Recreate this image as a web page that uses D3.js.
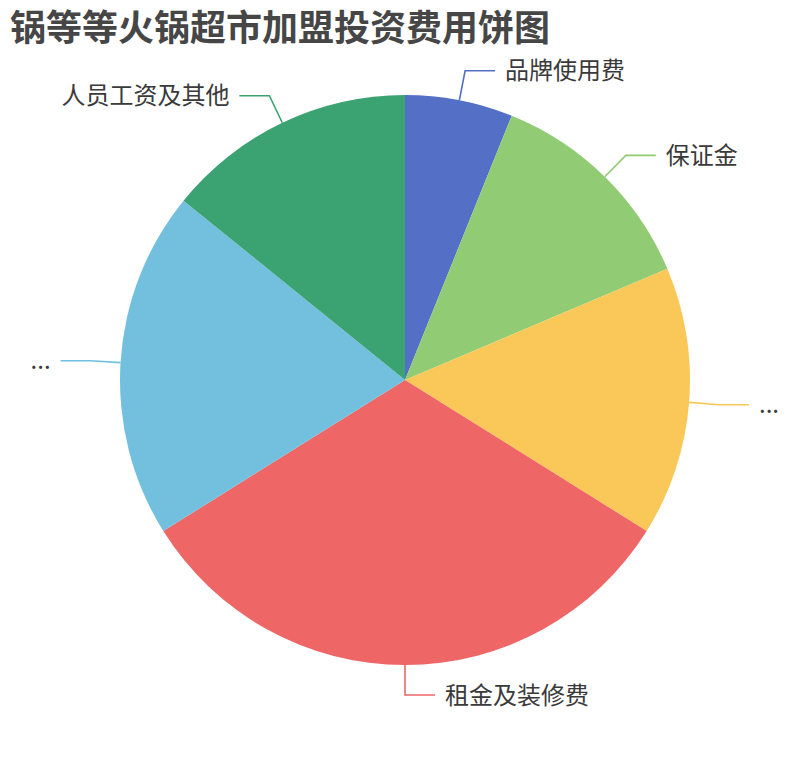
<!DOCTYPE html>
<html>
<head>
<meta charset="utf-8">
<script src="https://cdn.jsdelivr.net/npm/d3@7"></script>
<style>
  body { margin: 0; background: #fff; }
  text { font-family: "Noto Sans CJK SC", "Noto Sans", sans-serif; }
</style>
</head>
<body>
<script>
// 饼图数据
var categories = ['品牌使用费', '保证金', '...', '租金及装修费', '...', '人员工资及其他'];
var values = [2.2, 4.5, 5.5, 11.6, 7.1, 5.1];
var colors = ['#5470c6', '#91cc75', '#fac858', '#ee6666', '#73c0de', '#3ba272'];

var W = 810, H = 760;
var cx = 405, cy = 380, R = 285;
var len1 = 30, len2 = 30;

var svg = d3.select('body').append('svg')
    .attr('width', W)
    .attr('height', H);

svg.append('text')
    .attr('x', 10)
    .attr('y', 25)
    .attr('dominant-baseline', 'central')
    .style('font-size', '36px')
    .style('font-weight', 'bold')
    .style('fill', '#464646')
    .text('锅等等火锅超市加盟投资费用饼图');

var rows = categories.map(function(c, i) { return {name: c, value: values[i], color: colors[i]}; });

var pie = d3.pie().sort(null).value(function(d) { return d.value; });
var arcs = pie(rows);

var arc = d3.arc().innerRadius(0).outerRadius(R);
var edge = d3.arc().innerRadius(R).outerRadius(R);
var outer = d3.arc().innerRadius(R + len1).outerRadius(R + len1);

var group = svg.append('g').attr('transform', 'translate(' + cx + ',' + cy + ')');

group.selectAll('path.slice')
    .data(arcs)
    .enter().append('path')
    .attr('class', 'slice')
    .attr('d', arc)
    .style('fill', function(d) { return d.data.color; });

// 引导线和标签
arcs.forEach(function(d) {
    var p1 = edge.centroid(d);
    var p2 = outer.centroid(d);
    var mid = (d.startAngle + d.endAngle) / 2;
    var right = Math.sin(mid) >= 0;
    var p3 = [p2[0] + (right ? len2 : -len2), p2[1]];

    group.append('polyline')
        .attr('points', [p1, p2, p3].map(function(p) { return p.join(','); }).join(' '))
        .style('fill', 'none')
        .style('stroke', d.data.color)
        .style('stroke-width', 1.6);

    group.append('text')
        .attr('x', p3[0] + (right ? 10 : -10))
        .attr('y', p3[1] - 2)
        .attr('dominant-baseline', 'central')
        .attr('text-anchor', right ? 'start' : 'end')
        .style('font-size', '24px')
        .style('fill', '#3a3a3a')
        .text(d.data.name);
});
</script>
</body>
</html>
